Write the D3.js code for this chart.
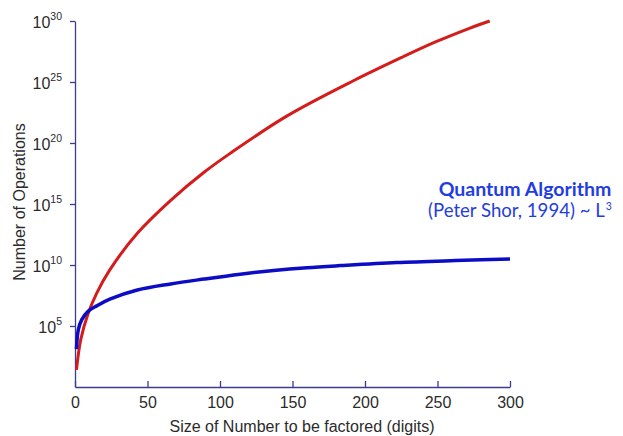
<!DOCTYPE html>
<html>
<head>
<meta charset="utf-8">
<script src="https://cdn.jsdelivr.net/npm/d3@7"></script>
<style>
  body { margin: 0; background: #fff; }
  svg { display: block; font-family: "Liberation Sans", Arial, sans-serif; }
</style>
</head>
<body>
<div id="chart"></div>
<script>
// classical (red) curve: digits -> log10(operations)
const redDigits = [1, 4, 9, 15, 24, 43, 66, 89, 107, 146, 192, 226, 249, 272, 286];
const redLog    = [1.4, 3.9, 6.0, 7.7, 9.6, 12.6, 15.3, 17.6, 19.15, 22.2, 25.1, 27.05, 28.3, 29.4, 30.0];

// quantum (blue) curve
const blueDigits = [1, 2.3, 4.6, 9, 15, 24, 43, 66, 89, 114, 137, 160, 183, 222, 268, 300];
const blueLog    = [3.1, 4.7, 5.5, 6.2, 6.65, 7.2, 7.95, 8.45, 8.85, 9.25, 9.55, 9.78, 9.95, 10.2, 10.38, 10.5];

const xTicks = [0, 50, 100, 150, 200, 250, 300];
const yExponents = [5, 10, 15, 20, 25, 30];

const width = 623, height = 436;
const margin = { top: 21, right: 113, bottom: 49, left: 75 };

const svg = d3.select("#chart")
    .append("svg")
    .attr("width", width)
    .attr("height", height);

const x = d3.scaleLinear()
    .domain([0, 300])
    .range([margin.left, width - margin.right]);

const y = d3.scaleLog()
    .domain([1, 1e30])
    .range([height - margin.bottom, margin.top]);

const axisColor = "#3b3b94";
const textColor = "#2b2b2b";

// x axis, ticks pointing up into the plot
const xAxis = svg.append("g")
    .attr("transform", `translate(0,${height - margin.bottom})`)
    .call(d3.axisBottom(x).tickValues(xTicks).tickSizeInner(-6).tickSizeOuter(0).tickPadding(10));

// y axis
const yAxis = svg.append("g")
    .attr("transform", `translate(${margin.left},0)`)
    .call(d3.axisLeft(y).tickValues(yExponents.map(e => Math.pow(10, e))).tickSizeInner(5).tickSizeOuter(0).tickFormat(""));

[xAxis, yAxis].forEach(g => {
    g.select(".domain").attr("stroke", axisColor).attr("stroke-width", 1.3);
    g.selectAll(".tick line").attr("stroke", axisColor).attr("stroke-width", 1.3);
});

xAxis.selectAll(".tick text")
    .attr("fill", textColor)
    .style("font-size", "16px");

// y tick labels as 10 with superscript exponent
const yLabels = svg.append("g");
yExponents.forEach(e => {
    const t = yLabels.append("text")
        .attr("x", margin.left - 13)
        .attr("y", y(Math.pow(10, e)) + 7)
        .attr("text-anchor", "end")
        .attr("fill", textColor)
        .style("font-size", "16px");
    t.append("tspan").text("10");
    t.append("tspan").attr("dy", -8).style("font-size", "10.5px").text(e);
});

// curves
const line = d3.line()
    .x(d => x(d[0]))
    .y(d => y(Math.pow(10, d[1])))
    .curve(d3.curveCatmullRom.alpha(0.5));

svg.append("path")
    .datum(redDigits.map((d, i) => [d, redLog[i]]))
    .attr("d", line)
    .attr("fill", "none")
    .attr("stroke", "#d41c1c")
    .attr("stroke-width", 3);

svg.append("path")
    .datum(blueDigits.map((d, i) => [d, blueLog[i]]))
    .attr("d", line)
    .attr("fill", "none")
    .attr("stroke", "#0c0cc4")
    .attr("stroke-width", 3.5);

// axis labels
svg.append("text")
    .attr("x", 302)
    .attr("y", 432)
    .attr("text-anchor", "middle")
    .attr("fill", textColor)
    .style("font-size", "16px")
    .text("Size of Number to be factored (digits)");

svg.append("text")
    .attr("transform", "rotate(-90)")
    .attr("x", -202)
    .attr("y", 25)
    .attr("text-anchor", "middle")
    .attr("fill", textColor)
    .style("font-size", "16px")
    .text("Number of Operations");

// annotation
const blueText = "#1f3de0";
svg.append("text")
    .attr("x", 525)
    .attr("y", 196)
    .attr("text-anchor", "middle")
    .attr("fill", blueText)
    .style("font-family", "Lato, 'Open Sans', sans-serif")
    .style("font-size", "19.5px")
    .style("font-weight", "bold")
    .text("Quantum Algorithm");

const l2 = svg.append("text")
    .attr("x", 428)
    .attr("y", 217)
    .attr("fill", blueText)
    .style("font-family", "Lato, 'Open Sans', sans-serif")
    .style("font-size", "18.6px");
l2.append("tspan").text("(Peter Shor, 1994) ~ L");
l2.append("tspan")
    .attr("dx", 1)
    .attr("dy", -7)
    .style("font-size", "10.5px")
    .text("3");
</script>
</body>
</html>
